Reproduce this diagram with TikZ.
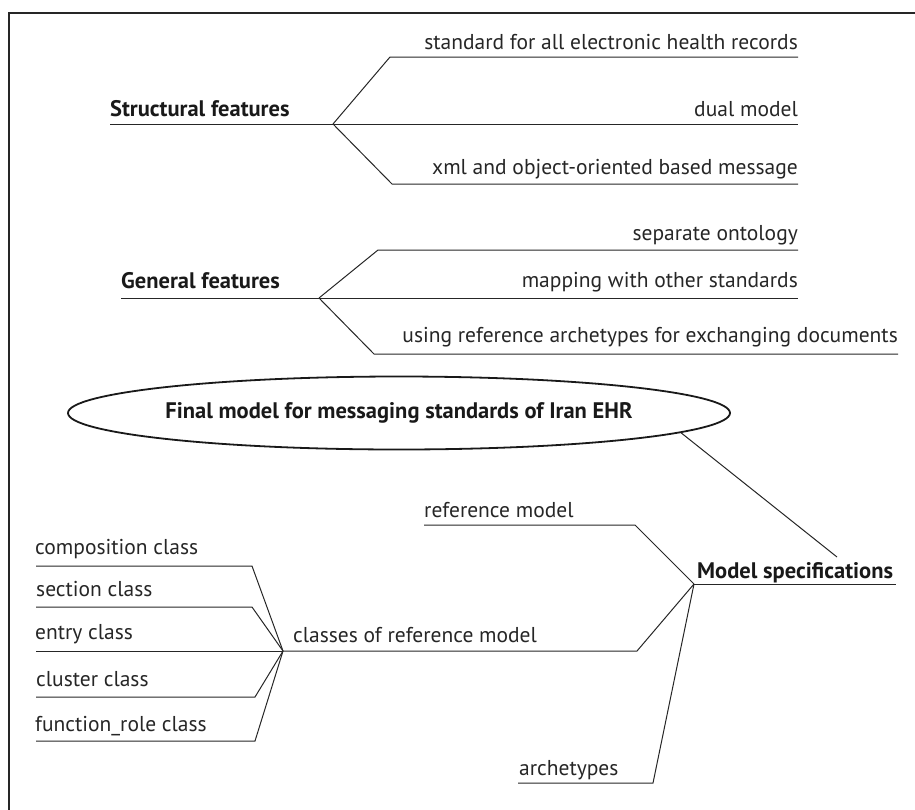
\documentclass[tikz,border=0pt]{standalone}
\usepackage{fontspec}
\setmainfont{PT Sans}
\usetikzlibrary{shapes.geometric}
\begin{document}
\begin{tikzpicture}[x=1pt,y=-1pt,
  ln/.style={line width=1pt, draw=black!85},
  lbl/.style={inner sep=0pt, font=\fontsize{21.5}{24}\selectfont, text=black!85},
  head/.style={inner sep=0pt, font=\fontsize{22.5}{25}\selectfont\bfseries, text=black!90}]
\useasboundingbox (0,0) rectangle (915,809);
\draw[line width=1.6pt, black!85] (9,830) -- (9,13) -- (940,13);

% Structural features
\coordinate (s0) at (110,124);
\coordinate (s) at (333,124);
\coordinate (s1a) at (390,57);  \coordinate (s1b) at (798,57);
\coordinate (s2b) at (798,124);
\coordinate (s3a) at (392,184); \coordinate (s3b) at (798,184);
\node[head, anchor=base west] (sft) at (110,116) {Structural features};
\node[lbl, anchor=base east] (s1t) at (798,49) {standard for all electronic health records};
\node[lbl, anchor=base east] (s2t) at (798,116) {dual model};
\node[lbl, anchor=base east] (s3t) at (798,174) {xml and object-oriented based message};
\draw[ln] (s0) -- (s);
\draw[ln] (s) -- (s1a) -- (s1b);
\draw[ln] (s) -- (s2b);
\draw[ln] (s) -- (s3a) -- (s3b);

% General features
\coordinate (g0) at (121,298);
\coordinate (g) at (319,298);
\coordinate (g1a) at (378,250); \coordinate (g1b) at (798,250);
\coordinate (g2b) at (798,298);
\coordinate (g3a) at (374,354); \coordinate (g3b) at (898,354);
\node[head, anchor=base west] (gft) at (121,288) {General features};
\node[lbl, anchor=base east] (g1t) at (798,240) {separate ontology};
\node[lbl, anchor=base east] (g2t) at (798,287) {mapping with other standards};
\node[lbl, anchor=base east] (g3t) at (898,342) {using reference archetypes for exchanging documents};
\draw[ln] (g0) -- (g);
\draw[ln] (g) -- (g1a) -- (g1b);
\draw[ln] (g) -- (g2b);
\draw[ln] (g) -- (g3a) -- (g3b);

% Final model
\node[ellipse, draw=black!90, line width=1.8pt, minimum width=662pt, minimum height=73pt, inner sep=0pt,
      font=\fontsize{22.5}{25}\selectfont\bfseries, text=black!90] (fin) at (399,413)
      {Final model for messaging standards of Iran EHR};

% Model specifications
\coordinate (m) at (694,584);
\coordinate (m1) at (896,584);
\coordinate (mtop) at (837,557);
\node[head, anchor=base west] (mst) at (697,578) {Model specifications};
\draw[ln] (m) -- (m1);
\draw[ln] (fin.-4.1) -- (mtop);

\coordinate (r1) at (635,525); \coordinate (r2) at (424,525);
\coordinate (c1) at (637,651); \coordinate (c) at (283,651);
\coordinate (a1) at (653,783); \coordinate (a2) at (518,783);
\node[lbl, anchor=base west] (rt) at (424,517) {reference model};
\node[lbl, anchor=base west] (ct) at (293,642) {classes of reference model};
\node[lbl, anchor=base west] (at) at (519,775) {archetypes};
\draw[ln] (m) -- (r1) -- (r2);
\draw[ln] (m) -- (c1) -- (c);
\draw[ln] (m) -- (a1) -- (a2);

% classes
\coordinate (k1a) at (252,566); \coordinate (k1b) at (36,566);
\coordinate (k2a) at (252,607); \coordinate (k2b) at (36,607);
\coordinate (k3b) at (36,651);
\coordinate (k4a) at (255,697); \coordinate (k4b) at (36,697);
\coordinate (k5a) at (255,741); \coordinate (k5b) at (36,741);
\node[lbl, anchor=base west] (k1t) at (35,554) {composition class};
\node[lbl, anchor=base west] (k2t) at (36,596) {section class};
\node[lbl, anchor=base west] (k3t) at (35,639) {entry class};
\node[lbl, anchor=base west] (k4t) at (36,686) {cluster class};
\node[lbl, anchor=base west] (k5t) at (35,731) {function\_role class};
\draw[ln] (c) -- (k1a) -- (k1b);
\draw[ln] (c) -- (k2a) -- (k2b);
\draw[ln] (c) -- (k3b);
\draw[ln] (c) -- (k4a) -- (k4b);
\draw[ln] (c) -- (k5a) -- (k5b);
\end{tikzpicture}
\end{document}
